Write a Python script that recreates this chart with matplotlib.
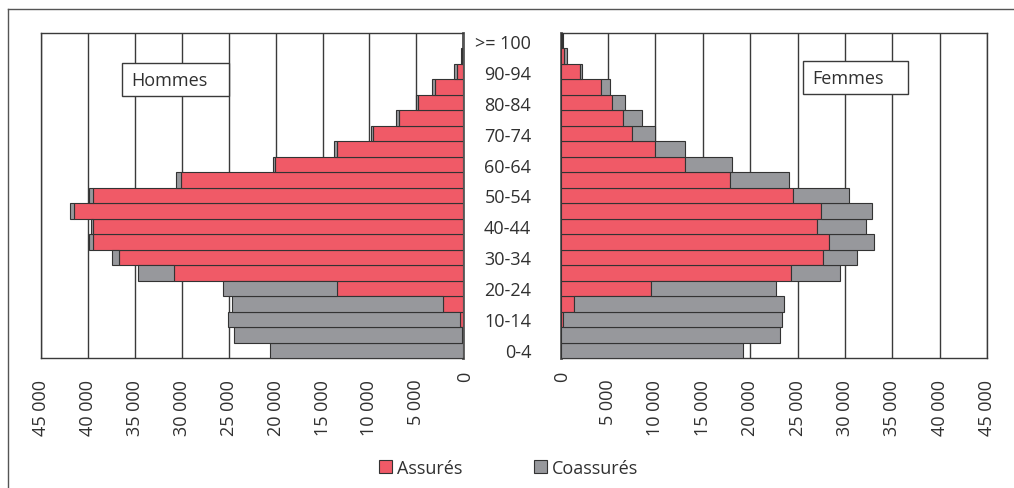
import matplotlib
matplotlib.use("Agg")
import matplotlib.pyplot as plt
from matplotlib.patches import Rectangle, Patch
from matplotlib.lines import Line2D
from matplotlib.ticker import FuncFormatter

plt.rcParams['font.family'] = ['Open Sans', 'DejaVu Sans']

# Age classes, youngest first
ages = ["0-4", "5-9", "10-14", "15-19", "20-24", "25-29", "30-34", "35-39",
        "40-44", "45-49", "50-54", "55-59", "60-64", "65-69", "70-74",
        "75-79", "80-84", "85-89", "90-94", "95-99", ">= 100"]

hommes_assures = [50, 100, 350, 2130, 13470, 30780, 36700, 39430, 39430, 41490,
                  39430, 30060, 20030, 13470, 9570, 6810, 4790, 3010, 700, 150, 20]
hommes_coassures = [20520, 24370, 24760, 22510, 12130, 3900, 700, 460, 290, 460,
                    460, 540, 290, 290, 280, 320, 270, 290, 250, 100, 10]

femmes_assures = [50, 50, 250, 1380, 9560, 24310, 27690, 28360, 27020, 27480,
                  24520, 17920, 13120, 9980, 7550, 6590, 5470, 4300, 2080, 420, 150]
femmes_coassures = [19240, 23050, 23140, 22220, 13120, 5180, 3600, 4730, 5150, 5400,
                    5880, 6130, 5010, 3140, 2400, 2010, 1300, 890, 220, 280, 80]

x_ticks = [0, 5000, 10000, 15000, 20000, 25000, 30000, 35000, 40000, 45000]

RED = "#F05A67"
GREY = "#97989C"
EDGE = "#333333"
TEXT = "#303030"
GRID = "#3a3a3a"

W, H = 1014, 489
fig = plt.figure(figsize=(W / 100, H / 100), dpi=100)


def frac_box(x0, y0, x1, y1):
    return [x0 / W, 1 - y1 / H, (x1 - x0) / W, (y1 - y0) / H]


ax_l = fig.add_axes(frac_box(41, 34, 463.3, 359))
ax_r = fig.add_axes(frac_box(560.5, 34, 987.3, 359))

ypos = list(range(len(ages)))
# the zero label sits a little higher, it is drawn separately below
fmt = FuncFormatter(lambda v, p: "" if v == 0 else f"{int(v):,}".replace(",", " "))

for ax, assures, coassures in ((ax_l, hommes_assures, hommes_coassures),
                               (ax_r, femmes_assures, femmes_coassures)):
    ax.barh(ypos, assures, height=1.0, color=RED, edgecolor=EDGE,
            linewidth=0.8, zorder=3)
    ax.barh(ypos, coassures, left=assures, height=1.0, color=GREY,
            edgecolor=EDGE, linewidth=0.8, zorder=3)
    ax.set_ylim(-0.5, len(ages) - 0.5)
    ax.set_xticks(x_ticks)
    ax.xaxis.set_major_formatter(fmt)
    ax.grid(axis='x', color=GRID, linewidth=1.0)
    ax.set_axisbelow(True)
    ax.tick_params(axis='x', length=0, pad=15, labelsize=13, labelcolor=TEXT,
                   labelrotation=90)
    for lbl in ax.get_xticklabels():
        lbl.set_verticalalignment('top')
    for s in ax.spines.values():
        s.set_color(GRID)
        s.set_linewidth(1.0)

ax_l.set_xlim(45000, 0)
ax_r.set_xlim(0, 45000)

ax_l.spines['right'].set_color('#555555')
ax_l.spines['right'].set_linewidth(2.0)
ax_r.spines['left'].set_color('#555555')
ax_r.spines['left'].set_linewidth(2.0)

ax_l.set_yticks([])
ax_r.set_yticks(ypos[::2])
ax_r.set_yticklabels(ages[::2])
ax_r.tick_params(axis='y', length=0, pad=21, labelsize=13, labelcolor=TEXT)

for zx in (465.5, 562.5):
    fig.text(zx / W, 1 - 372 / H, "0", rotation=90, ha='center', va='top',
             fontsize=13, color=TEXT)

# Panel titles in framed boxes
for (x0, y0, x1, y1, tx, label) in ((122.3, 64.3, 229.3, 97.3, 131.7, "Hommes"),
                                    (803.3, 62.3, 908.3, 95.3, 812.7, "Femmes")):
    fig.add_artist(Rectangle((x0 / W, 1 - y1 / H), (x1 - x0) / W, (y1 - y0) / H,
                             transform=fig.transFigure, facecolor='white',
                             edgecolor=GRID, linewidth=1.0, zorder=5))
    fig.text(tx / W, 1 - ((y0 + y1) / 2) / H, label, ha='left', va='center',
             fontsize=13, color=TEXT, zorder=6)

# Outer frame (top and left edges)
fig.add_artist(Line2D([8 / W, 1], [1 - 10 / H, 1 - 10 / H],
                      transform=fig.transFigure, color='#555555', linewidth=1.0))
fig.add_artist(Line2D([8 / W, 8 / W], [1 - 10 / H, 0],
                      transform=fig.transFigure, color='#555555', linewidth=1.0))

handles = [Patch(facecolor=RED, edgecolor=EDGE, linewidth=0.8, label="Assurés"),
           Patch(facecolor=GREY, edgecolor=EDGE, linewidth=0.8, label="Coassurés")]
fig.legend(handles=handles, loc='center', bbox_to_anchor=(508.5 / W, 1 - 469 / H),
           ncol=2, frameon=False, fontsize=13, handlelength=0.72,
           handleheight=0.72, handletextpad=0.28, columnspacing=4.0,
           labelcolor=TEXT, borderpad=0)

fig.savefig("out.png", dpi=100)
